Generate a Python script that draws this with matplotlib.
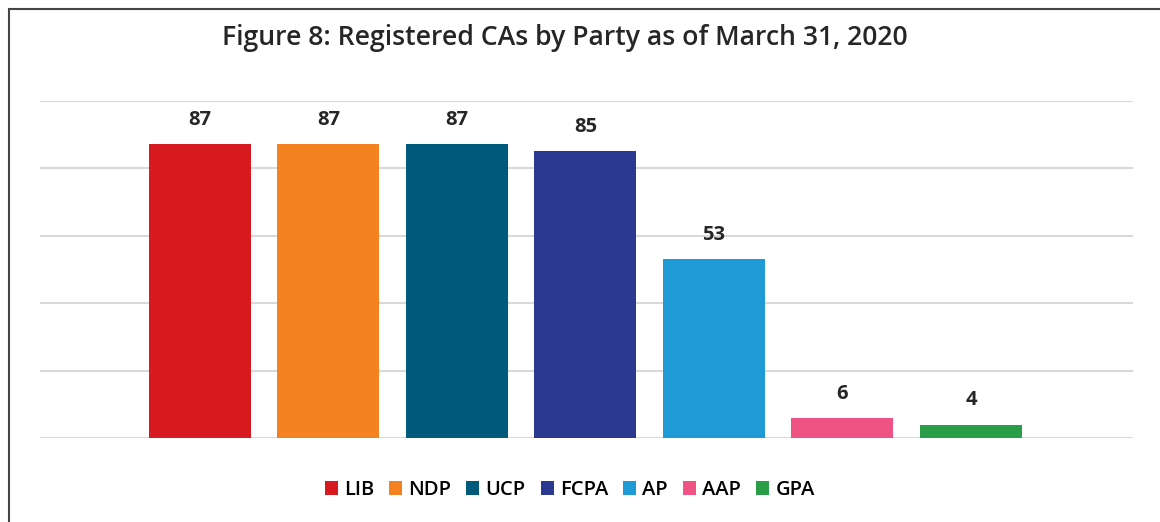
import matplotlib
matplotlib.use("Agg")
import matplotlib.pyplot as plt
from matplotlib.patches import Rectangle

plt.rcParams['font.family'] = ['Open Sans', 'DejaVu Sans']

parties = ['LIB', 'NDP', 'UCP', 'FCPA', 'AP', 'AAP', 'GPA']
counts = [87, 87, 87, 85, 53, 6, 4]
colors = ['#D71920', '#F58220', '#005A7C', '#2B3990', '#1E9AD6', '#EF5383', '#2A9D48']

fig = plt.figure(figsize=(11.6, 5.22), dpi=100)
fig.patch.set_facecolor('white')

# outer frame (runs off the right and bottom edges like the source)
fig.add_artist(Rectangle((9 / 1160, -0.05), 1.2, 1 - 9 / 522 + 0.05,
                         transform=fig.transFigure, fill=False,
                         edgecolor='#444444', linewidth=1.5))

ax = fig.add_axes([40 / 1160, (522 - 438) / 522, 1093 / 1160, 337.5 / 522])

for i, (p, v, c) in enumerate(zip(parties, counts, colors)):
    ax.bar(i, v, width=0.794, color=c, label=p, zorder=3)
    ax.annotate(str(v), (i, v), xytext=(0, 17.3), textcoords='offset points',
                ha='center', va='center', fontsize=14.5, fontweight='bold',
                color='#262626')

ax.set_xlim(-1.245, 7.261)
ax.set_ylim(0, 100)
ax.set_yticks(range(0, 101, 20))
ax.yaxis.grid(True, color='#D9D9D9', linewidth=1.5, zorder=0)
ax.set_xticks([])
ax.tick_params(left=False, labelleft=False)
for s in ax.spines.values():
    s.set_visible(False)

fig.text(0.487, 1 - 38 / 522, 'Figure 8: Registered CAs by Party as of March 31, 2020',
         ha='center', va='center', fontsize=19.2, fontweight='semibold', color='#262626')

fig.legend(loc='center', bbox_to_anchor=(0.491, 1 - 490 / 522), ncol=7, frameon=False,
           handlelength=0.65, handleheight=0.65, handletextpad=0.3,
           columnspacing=0.75, prop={'size': 14.5, 'weight': 'semibold'})

fig.savefig('out.png', dpi=100)
